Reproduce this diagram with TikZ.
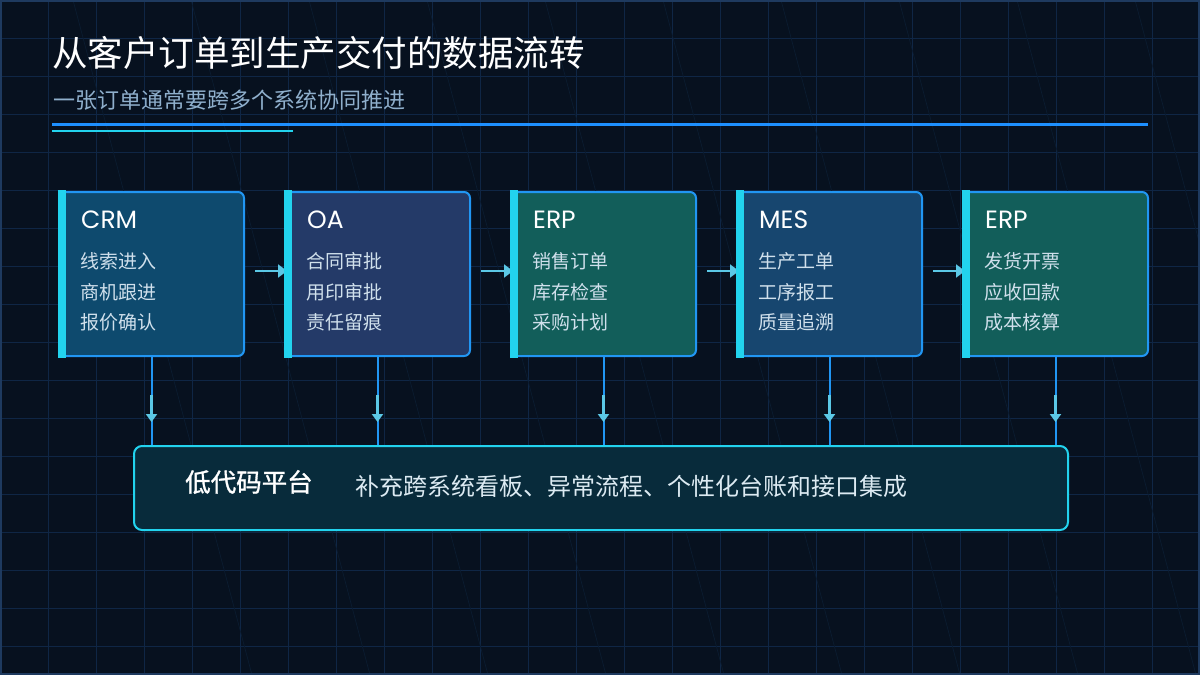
\documentclass[tikz,border=0pt]{standalone}
\usepackage{fontspec}
\setmainfont{Noto Sans CJK SC}
\newfontfamily\medf[FakeBold=1.2]{Noto Sans CJK SC}
\newfontfamily\latinf{Poppins}
\usetikzlibrary{arrows.meta,calc}
\definecolor{bgc}{HTML}{07111F}
\definecolor{gridc}{HTML}{0F2645}
\definecolor{diagc}{HTML}{0B1C30}
\definecolor{framec}{HTML}{1E3A5F}
\definecolor{subc}{HTML}{8FAFCC}
\definecolor{lineblue}{HTML}{1E90FF}
\definecolor{cyanc}{HTML}{22D3EE}
\definecolor{boxblue}{HTML}{2196F3}
\definecolor{arrowc}{HTML}{5BC8E6}
\definecolor{fcrm}{HTML}{0E4A6E}
\definecolor{foa}{HTML}{243A68}
\definecolor{ferp}{HTML}{125E5A}
\definecolor{fmes}{HTML}{17466F}
\definecolor{fplat}{HTML}{082B3B}
\definecolor{itemc}{HTML}{D0E0EC}
\definecolor{descc}{HTML}{DCEAF2}
\pgfdeclarelayer{bgl}
\pgfdeclarelayer{conn}
\pgfsetlayers{bgl,conn,main}
\tikzset{
  sysbox/.style={draw=boxblue, line width=2pt, rounded corners=6pt, minimum width=185pt, minimum height=164pt, inner sep=0pt, anchor=north west},
  accentbar/.style={fill=cyanc},
  systitle/.style={anchor=west, inner sep=0pt, text=white, font=\latinf\fontsize{25}{30}\selectfont},
  sysitem/.style={anchor=west, inner sep=0pt, text=itemc, font=\fontsize{19}{23}\selectfont},
  harrow/.style={draw=arrowc, line width=2.2pt, -{Triangle[length=9pt,width=13pt]}},
  vline/.style={draw=boxblue, line width=2pt},
  varrow/.style={draw=arrowc, line width=2.6pt, -{Triangle[length=8pt,width=11pt]}},
}
\begin{document}
\begin{tikzpicture}[x=1pt,y=-1pt]
\useasboundingbox (0,0) rectangle (1200,675);
\begin{pgfonlayer}{bgl}
\fill[bgc] (0,0) rectangle (1200,675);
\foreach \gx in {48,96,...,1152} \draw[gridc, line width=1pt] (\gx,0) -- (\gx,675);
\foreach \gy in {38,76,...,646} \draw[gridc, line width=1pt] (0,\gy) -- (1200,\gy);
\foreach \dx in {73,191,...,1135} \draw[diagc, line width=0.7pt] (\dx,0) -- (\dx+179,675);
\draw[framec, line width=2pt] (1,1) rectangle (1199,674);
\end{pgfonlayer}

% title
\node[anchor=west, inner sep=0pt, text=white, font=\fontsize{35.5}{40}\selectfont] (title) at (52,53) {从客户订单到生产交付的数据流转};
\node[anchor=west, inner sep=0pt, text=subc, font=\fontsize{22}{26}\selectfont] (subtitle) at (53,100) {一张订单通常要跨多个系统协同推进};
\draw[lineblue, line width=3pt] (52,124.5) -- (1148,124.5);
\draw[cyanc, line width=2pt] (52,131) -- (293,131);

% system boxes
\foreach \nm/\bx/\fc/\ttl/\ia/\ib/\ic in {
  crm/58/fcrm/CRM/线索进入/商机跟进/报价确认,
  oa/284/foa/OA/合同审批/用印审批/责任留痕,
  erpa/510/ferp/ERP/销售订单/库存检查/采购计划,
  mes/736/fmes/MES/生产工单/工序报工/质量追溯,
  erpb/962/ferp/ERP/发货开票/应收回款/成本核算} {
  \node[sysbox, fill=\fc] (\nm) at (\bx,191) {};
  \fill[accentbar] ($(\nm.north west)+(0,-1)$) rectangle ($(\nm.south west)+(8,1)$);
  \node[systitle] (\nm-t) at ($(\nm.north west)+(23,29)$) {\ttl};
  \node[sysitem] (\nm-a) at ($(\nm.north west)+(22,70)$) {\ia};
  \node[sysitem] (\nm-b) at ($(\nm.north west)+(22,101)$) {\ib};
  \node[sysitem] (\nm-c) at ($(\nm.north west)+(22,131)$) {\ic};
}

% platform
\node[draw=cyanc, fill=fplat, line width=2pt, rounded corners=8pt, minimum width=934pt, minimum height=84pt, inner sep=0pt, anchor=north west] (plat) at (133,445) {};
\node[anchor=west, inner sep=0pt, text=white, font=\medf\fontsize{25.5}{30}\selectfont] (plat-t) at (185,482) {低代码平台};
\node[anchor=west, inner sep=0pt, text=descc, font=\fontsize{24}{28}\selectfont] (plat-d) at (355,486) {补充跨系统看板、异常流程、个性化台账和接口集成};

% connectors
\begin{pgfonlayer}{conn}
\foreach \a/\b in {crm/oa, oa/erpa, erpa/mes, mes/erpb}
  \draw[harrow] ($(\a.east)+(10,-3)$) -- ($(\b.west)+(3,-3)$);
\foreach \a in {crm, oa, erpa, mes, erpb} {
  \draw[vline] (\a.south) -- (\a.south |- plat.north);
  \draw[varrow] ($(\a.south)+(0,38)$) -- ($(\a.south)+(0,65)$);
}
\end{pgfonlayer}
\end{tikzpicture}
\end{document}
